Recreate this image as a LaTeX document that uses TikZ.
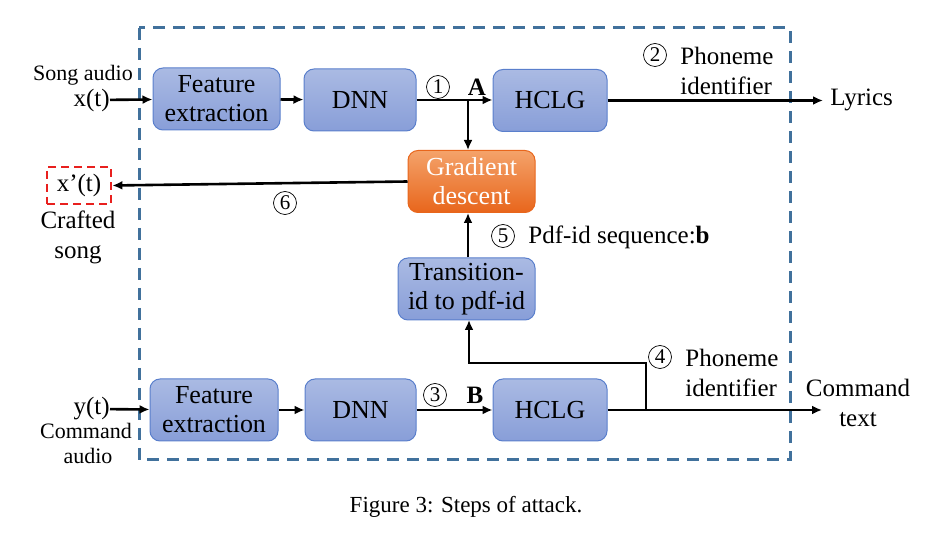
\documentclass[tikz,border=0pt]{standalone}
\usepackage{fontspec}
\setmainfont{LiberationSerif}[Extension=.ttf, UprightFont=*-Regular, BoldFont=*-Bold, ItalicFont=*-Italic, BoldItalicFont=*-BoldItalic]
\usetikzlibrary{arrows.meta}
\definecolor{blktop}{HTML}{AABAE3}
\definecolor{blkbot}{HTML}{889ED8}
\definecolor{blkedge}{HTML}{5A7FCC}
\definecolor{gdtop}{HTML}{F4A26A}
\definecolor{gdbot}{HTML}{E8661C}
\definecolor{frame}{HTML}{41719C}
\definecolor{crafted}{HTML}{E8201E}

\begin{document}
\begin{tikzpicture}[x=0.5pt,y=-0.5pt,
    blk/.style={draw=blkedge, line width=0.5pt, rounded corners=5pt, top color=blktop, bottom color=blkbot,
        align=center, inner sep=0pt, minimum height=31pt, font=\fontsize{13}{14.5}\selectfont},
    grd/.style={blk, draw=gdbot, top color=gdtop, bottom color=gdbot, text=white},
    lbl/.style={inner sep=0pt, align=center, font=\fontsize{11}{12.5}\selectfont},
    txt/.style={inner sep=0pt, align=left, font=\fontsize{12.5}{15}\selectfont},
    num/.style={circle, draw, line width=0.35pt, inner sep=0pt, minimum size=11.5pt, font=\fontsize{10.5}{10.5}\selectfont},
    conn/.style={line width=1.3pt},
    arr/.style={conn, -{Latex[length=5pt,width=4.5pt]}}]
  \useasboundingbox (0,0) rectangle (938,534);
  \draw[frame, line width=1.5pt, dash pattern=on 6pt off 4pt] (139,28) rectangle (790,460);

  \node[blk, minimum width=63.5pt] (fe1) at (216.5,99) {Feature\\extraction};
  \node[blk, minimum width=56pt] (dnn1) at (360,100) {DNN};
  \node[blk, minimum width=57pt] (hclg1) at (550,100.5) {HCLG};
  \node[grd, minimum width=63.5pt] (grad) at (471.5,181.5) {Gradient\\descent};
  \node[blk, minimum width=68.5pt] (trans) at (466.5,289) {Transition-\\id to pdf-id};
  \node[blk, minimum width=64pt] (fe2) at (214,410) {Feature\\extraction};
  \node[blk, minimum width=55.5pt] (dnn2) at (360.5,410) {DNN};
  \node[blk, minimum width=57pt] (hclg2) at (550,410) {HCLG};

  \node[lbl] (songlbl) at (83,75) {Song audio};
  \node[txt, anchor=east] (xin) at (110,100) {x(t)};
  \node[txt, anchor=east] (yin) at (110,409) {y(t)};
  \node[lbl] (cmdlbl) at (86,431) {Command};
  \node[lbl] (audlbl) at (88,456) {audio};
  \node[txt, draw=crafted, line width=1.4pt, dash pattern=on 4pt off 2.5pt, minimum width=32pt, minimum height=18.5pt, align=center] (xc) at (79,185.5) {x’(t)};
  \node[txt, align=center] (craftlbl) at (78,237) {Crafted\\song};
  \node[txt, anchor=west] (lyrics) at (830,100) {Lyrics};
  \node[txt, align=center] (cmdtxt) at (858,403) {Command\\text};

  \node[num] (n1) at (438,87) {1};
  \node[txt, font=\fontsize{12.5}{15}\selectfont\bfseries] (ba) at (477,87) {A};
  \node[num] (n2) at (655,55) {2};
  \node[txt, anchor=west] (ph2) at (680,71) {Phoneme\\identifier};
  \node[num] (n3) at (435,395) {3};
  \node[txt, font=\fontsize{12.5}{15}\selectfont\bfseries] (bb) at (475,395) {B};
  \node[num] (n4) at (660,357) {4};
  \node[txt, anchor=west] (ph4) at (685,373) {Phoneme\\identifier};
  \node[num] (n5) at (503,236) {5};
  \node[txt, anchor=west] (pdf) at (528,237) {Pdf-id sequence:\textbf{b}};
  \node[num] (n6) at (285,203) {6};

  \node[inner sep=0pt, font=\fontsize{11.5}{13}\selectfont] (cap) at (466,507) {Figure 3: Steps of attack.};

  \coordinate (tapA) at (468,100.5);
  \coordinate (brB) at (646,410);
  \coordinate (outA) at (823,100.5);
  \coordinate (outB) at (822,410);

  \draw[arr] (xin) -- (fe1);
  \draw[arr] (fe1) -- (dnn1);
  \draw[arr] (dnn1.east) -- (hclg1.west |- dnn1.east);
  \draw[arr] (tapA) -- (tapA |- grad.north);
  \draw[arr] (hclg1.east) -- (outA);
  \draw[arr] (grad.west) -- (xc.east);
  \draw[arr] (trans.north -| tapA) -- (grad.south -| tapA);
  \draw[arr] (yin) -- (fe2);
  \draw[arr] (fe2) -- (dnn2);
  \draw[arr] (dnn2) -- (hclg2);
  \draw[arr] (hclg2.east) -- (outB);
  \draw[arr] (brB) |- (469,363) -- (469,320);
\end{tikzpicture}
\end{document}
